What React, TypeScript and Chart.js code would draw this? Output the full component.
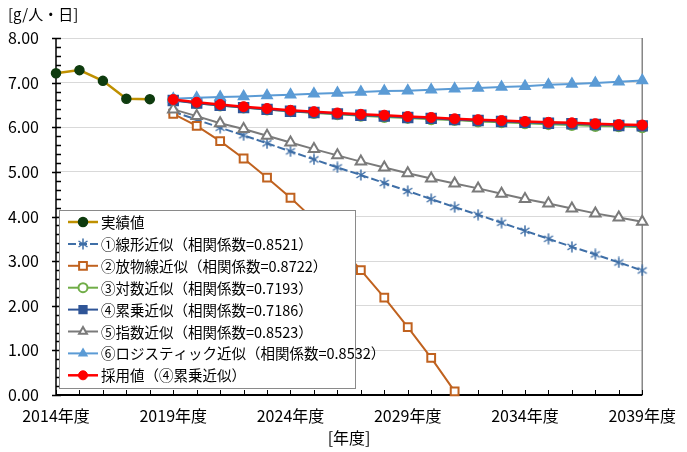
import React, { useEffect, useRef } from "react";
import { Chart, registerables } from "chart.js";
import { drawPoint } from "chart.js/helpers";

Chart.register(...registerables);

const years = Array.from({ length: 26 }, (_, i) => String(2014 + i));
const N5 = [null, null, null, null, null];

const actual = [7.21, 7.28, 7.04, 6.64, 6.63];
const linear = [6.35, 6.17, 5.99, 5.82, 5.64, 5.46, 5.28, 5.1, 4.93, 4.75, 4.57, 4.39, 4.21, 4.04, 3.86, 3.68, 3.5, 3.32, 3.15, 2.97, 2.79];
const parabola = [6.3, 6.03, 5.69, 5.3, 4.87, 4.42, 3.93, 3.39, 2.8, 2.18, 1.52, 0.83, 0.08];
const logFit = [6.61, 6.54, 6.49, 6.44, 6.4, 6.36, 6.32, 6.29, 6.26, 6.23, 6.21, 6.18, 6.16, 6.13, 6.11, 6.09, 6.07, 6.05, 6.03, 6.02, 6.0];
const powerFit = [6.6, 6.54, 6.49, 6.44, 6.4, 6.36, 6.33, 6.3, 6.27, 6.25, 6.22, 6.2, 6.17, 6.15, 6.13, 6.11, 6.09, 6.08, 6.06, 6.04, 6.03];
const expFit = [6.4, 6.25, 6.09, 5.96, 5.81, 5.66, 5.51, 5.37, 5.23, 5.1, 4.97, 4.85, 4.74, 4.63, 4.51, 4.39, 4.29, 4.18, 4.07, 3.98, 3.88];
const logistic = [6.64, 6.66, 6.68, 6.69, 6.71, 6.73, 6.75, 6.77, 6.79, 6.81, 6.82, 6.84, 6.86, 6.88, 6.9, 6.92, 6.95, 6.97, 6.99, 7.02, 7.05];
const adopted = [6.62, 6.56, 6.51, 6.46, 6.42, 6.38, 6.35, 6.32, 6.29, 6.27, 6.24, 6.22, 6.19, 6.17, 6.15, 6.13, 6.11, 6.1, 6.08, 6.06, 6.05];

const seriesNames = [
  "実績値",
  "①線形近似（相関係数=0.8521）",
  "②放物線近似（相関係数=0.8722）",
  "③対数近似（相関係数=0.7193）",
  "④累乗近似（相関係数=0.7186）",
  "⑤指数近似（相関係数=0.8523）",
  "⑥ロジスティック近似（相関係数=0.8532）",
  "採用値（④累乗近似）",
];
const yTicks = [0, 1, 2, 3, 4, 5, 6, 7, 8];
const yTitle = "[g/人・日]";
const xTitle = "[年度]";

const FONT = '"Noto Sans CJK JP", "Noto Sans", sans-serif';

function makeStar(color: string, size: number) {
  const c = document.createElement("canvas");
  c.width = size;
  c.height = size;
  const g = c.getContext("2d")!;
  g.strokeStyle = color;
  g.lineWidth = 1.5;
  const m = 1.5;
  g.beginPath();
  g.moveTo(m, m + 1.5);
  g.lineTo(size - m, size - m - 1.5);
  g.moveTo(size - m, m + 1.5);
  g.lineTo(m, size - m - 1.5);
  g.moveTo(size / 2, 0.5);
  g.lineTo(size / 2, size - 0.5);
  g.stroke();
  return c;
}

function pad(arr: number[], lead: any[]) {
  const out = [...lead, ...arr];
  while (out.length < years.length) out.push(null);
  return out;
}

const decor = {
  id: "decor",
  beforeDatasetsDraw(chart: any) {
    const { ctx, chartArea, scales } = chart;
    const { left, right, top, bottom } = chartArea;
    const x = scales.x, y = scales.y;
    ctx.save();
    ctx.strokeStyle = "#868686";
    ctx.lineWidth = 1.5;
    ctx.beginPath();
    ctx.moveTo(right, top);
    ctx.lineTo(right, bottom);
    ctx.stroke();
    ctx.strokeStyle = "#000";
    ctx.lineWidth = 1.5;
    ctx.beginPath();
    ctx.moveTo(left, top);
    ctx.lineTo(left, bottom);
    for (let k = 0; k <= 40; k++) {
      const v = k * 0.2;
      const py = Math.round(y.getPixelForValue(v)) + 0.5;
      if (k % 5 === 0) {
        ctx.moveTo(left - 4, py);
        ctx.lineTo(left + 5, py);
      } else {
        ctx.moveTo(left, py);
        ctx.lineTo(left + 5, py);
      }
    }
    ctx.stroke();
    ctx.lineWidth = 2;
    ctx.beginPath();
    ctx.moveTo(left, bottom);
    ctx.lineTo(right, bottom);
    ctx.stroke();
    ctx.lineWidth = 1;
    ctx.beginPath();
    for (let i = 0; i < years.length; i++) {
      const px = Math.round(x.getPixelForValue(i)) + 0.5;
      ctx.moveTo(px, bottom);
      ctx.lineTo(px, bottom - 5);
    }
    ctx.stroke();
    ctx.restore();
  },
  afterDraw(chart: any) {
    const { ctx } = chart;
    ctx.save();
    ctx.fillStyle = "#000";
    ctx.font = `15px ${FONT}`;
    ctx.textBaseline = "middle";
    ctx.textAlign = "left";
    ctx.fillText(yTitle, 8, 14);
    const bx = 59, by = 210, bw = 296, bh = 178;
    ctx.fillStyle = "#fff";
    ctx.fillRect(bx, by, bw, bh);
    ctx.strokeStyle = "#8a8a8a";
    ctx.lineWidth = 1;
    ctx.strokeRect(bx + 0.5, by + 0.5, bw, bh);
    const rowH = 21.9;
    chart.data.datasets.forEach((ds: any, i: number) => {
      const cy = by + 12 + i * rowH;
      ctx.save();
      ctx.strokeStyle = ds.borderColor;
      ctx.lineWidth = ds.borderWidth;
      ctx.setLineDash(ds.borderDash || []);
      ctx.beginPath();
      ctx.moveTo(68, cy);
      ctx.lineTo(98, cy);
      ctx.stroke();
      ctx.setLineDash([]);
      ctx.fillStyle = ds.pointBackgroundColor;
      ctx.strokeStyle = ds.pointBorderColor;
      ctx.lineWidth = ds.pointBorderWidth;
      const r = ds.pointStyle === "rect" ? 5.5 : 4.5;
      drawPoint(ctx, { pointStyle: ds.pointStyle, rotation: 0, radius: Math.min(ds.pointRadius, r), borderWidth: ds.pointBorderWidth }, 83, cy);
      ctx.restore();
      ctx.fillStyle = "#000";
      ctx.font = `14.5px ${FONT}`;
      ctx.textBaseline = "middle";
      ctx.textAlign = "left";
      ctx.fillText(seriesNames[i], 101, cy + 0.5);
    });
    ctx.restore();
  },
};

export default function App() {
  const ref = useRef<HTMLCanvasElement>(null);
  useEffect(() => {
    const star = makeStar("#3F6FA7", 12);
    const mk = (label: string, data: any[], o: any) => ({
      label,
      data,
      borderWidth: 2,
      pointBorderWidth: 1.5,
      pointRadius: 5,
      clip: false,
      tension: 0,
      ...o,
    });
    const datasets = [
      mk(seriesNames[0], pad(actual, []), {
        borderColor: "#BF9000", borderWidth: 2.5, pointStyle: "circle", pointRadius: 4.5,
        pointBackgroundColor: "#0E3B0E", pointBorderColor: "#0E3B0E",
      }),
      mk(seriesNames[1], pad(linear, N5), {
        borderColor: "#3F6FA7", borderDash: [8, 3], pointStyle: star, pointRadius: 6,
        pointBackgroundColor: "#3F6FA7", pointBorderColor: "#3F6FA7",
      }),
      mk(seriesNames[2], pad(parabola, N5), {
        borderColor: "#C0621F", pointStyle: "rect", pointRadius: 5.5,
        pointBackgroundColor: "#fff", pointBorderColor: "#C0621F", pointBorderWidth: 2,
      }),
      mk(seriesNames[3], pad(logFit, N5), {
        borderColor: "#70AD47", pointStyle: "circle", pointRadius: 5,
        pointBackgroundColor: "#fff", pointBorderColor: "#70AD47", pointBorderWidth: 2,
      }),
      mk(seriesNames[4], pad(powerFit, N5), {
        borderColor: "#2F5597", pointStyle: "rect", pointRadius: 7,
        pointBackgroundColor: "#2F5597", pointBorderColor: "#2F5597",
      }),
      mk(seriesNames[5], pad(expFit, N5), {
        borderColor: "#7A7A7A", pointStyle: "triangle", pointRadius: 6,
        pointBackgroundColor: "#fff", pointBorderColor: "#7A7A7A", pointBorderWidth: 2,
      }),
      mk(seriesNames[6], pad(logistic, N5), {
        borderColor: "#5B9BD5", pointStyle: "triangle", pointRadius: 6,
        pointBackgroundColor: "#5B9BD5", pointBorderColor: "#5B9BD5",
      }),
      mk(seriesNames[7], pad(adopted, N5), {
        borderColor: "#FF0000", borderWidth: 2.5, pointStyle: "circle", pointRadius: 5,
        pointBackgroundColor: "#FF0000", pointBorderColor: "#FF0000", pointBorderWidth: 1,
      }),
    ].map((d, i) => ({ ...d, order: -i }));

    const chart = new Chart(ref.current!, {
      type: "line",
      data: { labels: years, datasets },
      plugins: [decor],
      options: {
        animation: false,
        responsive: false,
        devicePixelRatio: 1,
        events: [],
        layout: { padding: { top: 38, right: 42, bottom: 0, left: 0 } },
        plugins: { legend: { display: false }, tooltip: { enabled: false }, title: { display: false } },
        scales: {
          x: {
            type: "category",
            offset: false,
            grid: { display: false, drawTicks: false },
            border: { display: false },
            ticks: {
              autoSkip: false,
              maxRotation: 0,
              minRotation: 0,
              padding: 11,
              color: "#000",
              font: { family: FONT, size: 16 },
              callback: (_v: any, i: number) => (i % 5 === 0 ? years[i] + "年度" : ""),
            },
            title: { display: true, text: xTitle, color: "#000", font: { family: FONT, size: 16 }, padding: { top: 0, bottom: 4 } },
            afterFit: (s: any) => { s.height = 57; },
          },
          y: {
            min: 0,
            max: 8,
            afterBuildTicks: (s: any) => { s.ticks = yTicks.map((v) => ({ value: v })); },
            grid: { color: "#D9D9D9", lineWidth: 1, drawTicks: false },
            border: { display: false },
            ticks: {
              padding: 17,
              color: "#000",
              font: { family: FONT, size: 16 },
              callback: (v: any) => Number(v).toFixed(2),
            },
            afterFit: (s: any) => { s.width = 56; },
          },
        },
      },
    });
    return () => chart.destroy();
  }, []);
  return (
    <div style={{ position: "absolute", left: 0, top: 0, width: 687, height: 452, background: "#fff" }}>
      <canvas ref={ref} width={687} height={452} />
    </div>
  );
}
